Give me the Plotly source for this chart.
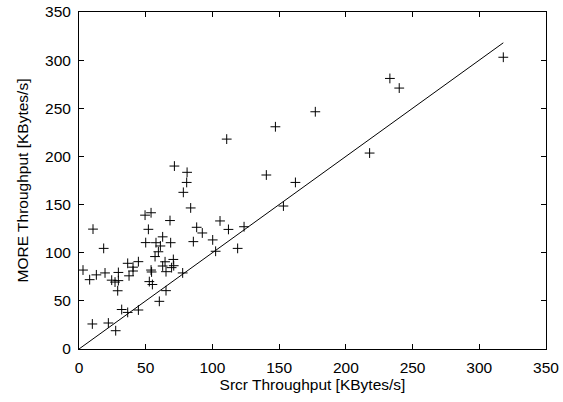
import plotly.graph_objects as go

srcr = [3, 8, 10, 10.5, 13, 18.5, 19.5, 22, 24.5, 27, 29.5, 29, 29.5, 27.5, 32, 36.5,
        36.5, 37.5, 40.5, 40.5, 44.5, 44.5, 49.5, 54, 52, 50, 54, 54.4, 52.7, 55,
        57.7, 62.7, 61, 59.5, 57, 64.5, 62.7, 60.2, 65.2, 65.2, 68.2, 68.7, 70.7,
        69.4, 71, 71.5, 77.7, 78.2, 80.7, 81, 83.7, 85.7, 88.2, 92.4, 100.2, 102.4,
        105.7, 110.7, 112, 118.9, 123.7, 140.4, 147.2, 153.2, 162.2, 177.1, 217.8,
        233, 240, 318]
more = [82, 72, 26, 124.5, 77, 104.5, 79, 27, 71.5, 69.5, 71, 60.5, 79.5, 19, 41, 38,
        89, 76, 81, 85, 90.7, 40.5, 139, 141.5, 124.3, 110.5, 82, 80, 70, 67,
        110.4, 116.5, 107, 101, 96, 90.6, 86.2, 49.5, 60.6, 80.3, 133.4, 110.4, 93,
        84.5, 86.5, 190, 79, 162.7, 173, 183.5, 146.5, 111.5, 126.4, 120.5, 113.3, 101.5,
        133, 218, 124.2, 104.5, 127, 180.7, 230.8, 148.5, 173, 246.4, 203.5,
        281, 271, 303]
ref_line = [0, 318]
ticks = [0, 50, 100, 150, 200, 250, 300, 350]

FONT = "Liberation Sans, Arial"

fig = go.Figure()
fig.add_trace(go.Scatter(x=ref_line, y=ref_line, mode="lines",
                         line=dict(color="black", width=1), showlegend=False,
                         hoverinfo="skip"))
fig.add_trace(go.Scatter(x=srcr, y=more, mode="markers",
                         marker=dict(symbol="cross-thin", size=7,
                                     line=dict(color="black", width=1), color="black"),
                         showlegend=False))

axis_common = dict(range=[0, 350], tickvals=ticks, ticks="inside", ticklen=5,
                   tickcolor="black", showline=True, linecolor="black", linewidth=1,
                   mirror="ticks", showgrid=False, zeroline=False, automargin=False,
                   tickfont=dict(family=FONT, size=15.5, color="black"))

fig.update_xaxes(**axis_common, ticklabelstandoff=4,
                 title=dict(text="Srcr Throughput [KBytes/s]", standoff=4,
                            font=dict(family=FONT, size=15.5, color="black")))
fig.update_yaxes(**axis_common, ticklabelstandoff=4,
                 title=dict(text="MORE Throughput [KBytes/s]", standoff=12,
                            font=dict(family=FONT, size=15.5, color="black")))

fig.update_layout(width=563, height=402, plot_bgcolor="white", paper_bgcolor="white",
                  margin=dict(l=79, r=17, t=12, b=53, autoexpand=False))

fig.write_html("out.html", config={"displayModeBar": False},
               post_script="document.body.style.margin='0';")
